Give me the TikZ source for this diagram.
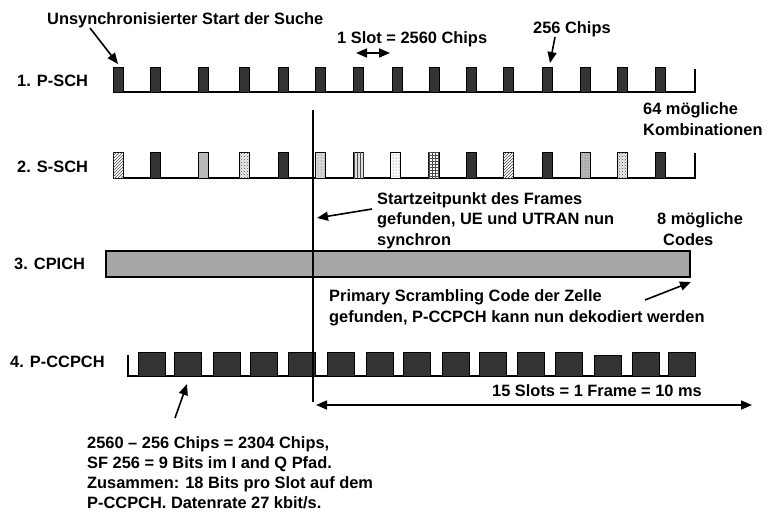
\documentclass[tikz,border=0pt]{standalone}
\usepackage{fontspec}
\setmainfont{Liberation Sans}
\usetikzlibrary{arrows.meta,patterns}
\definecolor{pulsedark}{HTML}{333333}
\definecolor{cpichgray}{HTML}{A6A6A6}
\begin{document}
\begin{tikzpicture}[x=1pt,y=-1pt,
  lbl/.style={anchor=base west, inner sep=0pt, align=left, font=\fontsize{16.4}{20.5}\selectfont\bfseries},
  baseln/.style={line width=1.4pt, line join=miter},
  pulse/.style={draw=black, line width=1pt, fill=pulsedark},
  sp/.style={draw=black, line width=1pt, fill=#1},
  pat/.style 2 args={draw=black, line width=1pt, fill=#1, postaction={pattern=#2, pattern color=black!70}},
  arr/.style={line width=1.6pt, -{Triangle[length=11pt,width=9pt]}},
  darr/.style={line width=1.6pt, {Triangle[length=11pt,width=9pt]}-{Triangle[length=11pt,width=9pt]}}]
\useasboundingbox (0,0) rectangle (770,515);

% labels (base = baseline of the last line)
\node[lbl] (start) at (47,24) {Unsynchronisierter Start der Suche};
\node[lbl] (slot) at (337,43) {1 Slot = 2560 Chips};
\node[lbl] (c256) at (533,33) {256 Chips};
\node[lbl] (psch) at (17,86) {1. P-SCH};
\node[lbl] (ssch) at (17,172) {2. S-SCH};
\node[lbl] (komb) at (643,135) {64 mögliche\\Kombinationen};
\node[lbl] (frst) at (377,245) {Startzeitpunkt des Frames\\gefunden, UE und UTRAN nun\\synchron};
\node[lbl] (codes) at (657,245) {8 mögliche\\\hspace*{6pt}Codes};
\node[lbl] (cpich) at (14,269) {3. CPICH};
\node[lbl] (prim) at (329,322) {Primary Scrambling Code der Zelle\\gefunden, P-CCPCH kann nun dekodiert werden};
\node[lbl] (pccpch) at (10,367) {4. P-CCPCH};
\node[lbl] (frame) at (492,396) {15 Slots = 1 Frame = 10 ms};
\node[lbl, font=\fontsize{16.4}{19.8}\selectfont\bfseries] (bits) at (87,508) {2560 -- 256 Chips = 2304 Chips,\\SF 256 = 9 Bits im I and Q Pfad.\\Zusammen: 18 Bits pro Slot auf dem\\P-CCPCH. Datenrate 27 kbit/s.};

% 1. P-SCH
\draw[baseln] (123,92) -- (695,92) -- (695,69);
\foreach \x in {113,150,198,239,278,315,353,392,429,466,503,542,580,617,655}
  \draw[pulse] (\x,67) rectangle ++(10.5,25);

% 2. S-SCH
\draw[baseln] (123,178) -- (695,178) -- (695,153);
\draw[pat={white}{north east lines}] (113,152) rectangle ++(10.5,26);
\draw[pulse] (150,152) rectangle ++(10.5,26);
\draw[sp=gray!55] (198,152) rectangle ++(10.5,26);
\draw[pat={gray!15}{crosshatch dots}] (239,152) rectangle ++(10.5,26);
\draw[pulse] (278,152) rectangle ++(10.5,26);
\draw[pat={gray!30}{dots}] (315,152) rectangle ++(10.5,26);
\draw[pat={gray!25}{vertical lines}] (353,152) rectangle ++(10.5,26);
\draw[pat={white}{dots}] (390,152) rectangle ++(10.5,26);
\draw[pat={white}{grid}] (428,152) rectangle ++(11,26);
\draw[pulse] (466,152) rectangle ++(10.5,26);
\draw[pat={white}{north east lines}] (503,152) rectangle ++(10.5,26);
\draw[pulse] (542,152) rectangle ++(10.5,26);
\draw[pat={gray!55}{dots}] (580,152) rectangle ++(10.5,26);
\draw[pat={gray!15}{crosshatch dots}] (617,152) rectangle ++(10.5,26);
\draw[pulse] (655,152) rectangle ++(10.5,26);

% 3. CPICH
\draw[draw=black, line width=1.2pt, fill=cpichgray] (106,251) rectangle (690,277);

% 4. P-CCPCH
\draw[baseln] (128,355) -- (128,376) -- (695,376);
\foreach \x in {138,174,213,250,288,327,366,403,442,479,517,555,632,668}
  \draw[pulse] (\x,352) rectangle ++(27,24);
\draw[pulse] (594,355) rectangle ++(27,21);

% vertical sync line
\coordinate (vtop) at (313,110);
\coordinate (vbot) at (313,402);
\draw[line width=1.2pt] (vtop) -- (vbot);

% arrows
\coordinate (a1s) at (90,28);   \coordinate (a1e) at (118,64);
\draw[arr] (a1s) -- (a1e);
\coordinate (sl) at (356,53);   \coordinate (sr) at (390,53);
\draw[darr] (sl) -- (sr);
\coordinate (c256s) at (555,37); \coordinate (c256e) at (550,63);
\draw[arr] (c256s) -- (c256e);
\coordinate (fs) at (372,209);  \coordinate (fe) at (317,218);
\draw[arr] (fs) -- (fe);
\coordinate (ps) at (645,300);  \coordinate (pe) at (691,282);
\draw[arr] (ps) -- (pe);
\coordinate (fl) at (316,405);  \coordinate (fr) at (752,405);
\draw[darr] (fl) -- (fr);
\coordinate (bs) at (175,418);  \coordinate (be) at (187,384);
\draw[arr] (bs) -- (be);
\end{tikzpicture}
\end{document}
